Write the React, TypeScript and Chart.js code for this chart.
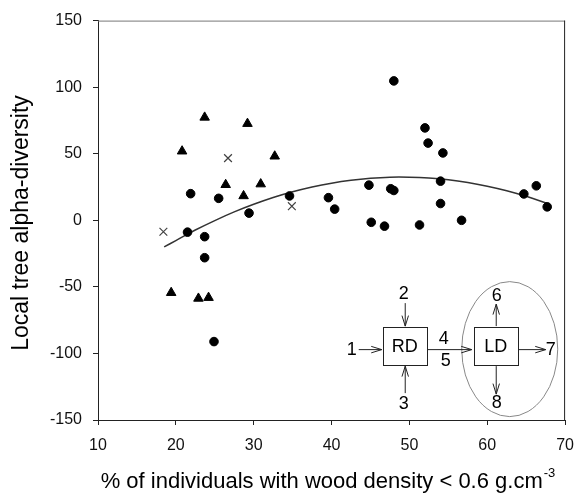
import React, { useEffect, useRef } from "react";
import { Chart, registerables } from "chart.js";

Chart.register(...registerables);

// ---- Data ----
const circleX = [21.9, 25.5, 21.5, 23.7, 23.7, 29.4, 34.6, 24.9, 48.0, 52.0, 52.4, 54.3, 54.0, 44.8, 47.6, 48.0, 39.6, 40.4, 54.0, 45.1, 46.8, 51.3, 56.7, 66.3, 64.7, 67.7];
const circleY = [20.0, 16.5, -8.9, -12.3, -28.1, 5.4, 18.3, -91.1, 104.7, 69.4, 58.0, 50.6, 29.4, 26.4, 23.7, 22.4, 17.0, 8.4, 12.6, -1.5, -4.4, -3.5, 0.0, 25.9, 19.8, 10.1];

const triangleX = [23.7, 20.8, 29.2, 32.7, 26.4, 30.9, 28.7, 19.4, 22.9, 24.2];
const triangleY = [77.3, 51.9, 72.6, 48.1, 26.7, 27.2, 18.3, -54.4, -58.7, -58.1];

const crossX = [26.7, 18.4, 34.9];
const crossY = [46.7, -8.6, 10.6];

const fitX = [18.5, 20, 22.5, 25, 27.5, 30, 32.5, 35, 37.5, 40, 42.5, 45, 47.5, 50, 52.5, 55, 57.5, 60, 62.5, 65, 67.7];
const fitY = [-20.0, -15.2, -7.3, -0.2, 6.3, 12.0, 17.1, 21.4, 25.0, 27.9, 30.1, 31.6, 32.4, 32.4, 31.8, 30.5, 28.4, 25.6, 22.2, 18.0, 12.7];

const xTicks = [10, 20, 30, 40, 50, 60, 70];
const yTicks = [-150, -100, -50, 0, 50, 100, 150];

const yTitle = "Local tree alpha-diversity";
const xTitleMain = "% of individuals with wood density < 0.6 g.cm";
const xTitleSup = "-3";

// inset diagram labels
const insetLabels = ["1", "2", "3", "4", "5", "6", "7", "8"];
const boxLabels = ["RD", "LD"];
const insetAnchor = { x: 49.4, y: -94.5 }; // data position of the RD box centre

const zip = (xs: number[], ys: number[]) => xs.map((x, i) => ({ x, y: ys[i] }));

const FONT = "'Liberation Sans', Arial, sans-serif";

function drawArrow(ctx: CanvasRenderingContext2D, x1: number, y1: number, x2: number, y2: number) {
  const a = Math.atan2(y2 - y1, x2 - x1);
  const L = 11;
  const w = 0.3;
  ctx.beginPath();
  ctx.moveTo(x1, y1);
  ctx.lineTo(x2, y2);
  ctx.moveTo(x2 - L * Math.cos(a - w), y2 - L * Math.sin(a - w));
  ctx.lineTo(x2, y2);
  ctx.lineTo(x2 - L * Math.cos(a + w), y2 - L * Math.sin(a + w));
  ctx.stroke();
}

const decorPlugin = {
  id: "decor",
  afterDraw(chart: any) {
    const { ctx, chartArea, scales } = chart;
    const { left, right, top, bottom } = chartArea;
    ctx.save();
    // top & right frame
    ctx.lineWidth = 1;
    ctx.strokeStyle = "#777";
    ctx.beginPath();
    ctx.moveTo(left, top + 0.5);
    ctx.lineTo(right, top + 0.5);
    ctx.stroke();
    ctx.strokeStyle = "#222";
    ctx.beginPath();
    ctx.moveTo(right - 0.5, top);
    ctx.lineTo(right - 0.5, bottom);
    ctx.stroke();

    // axis titles
    ctx.fillStyle = "#000";
    ctx.textBaseline = "middle";
    ctx.font = `22px ${FONT}`;
    const mainW = ctx.measureText(xTitleMain).width;
    ctx.font = `13px ${FONT}`;
    const supW = ctx.measureText(xTitleSup).width;
    const totalW = mainW + supW + 1;
    const cx = 328;
    const ty = 482;
    ctx.textAlign = "left";
    ctx.font = `22px ${FONT}`;
    ctx.fillText(xTitleMain, cx - totalW / 2, ty);
    ctx.font = `13px ${FONT}`;
    ctx.fillText(xTitleSup, cx - totalW / 2 + mainW + 1, ty - 9);

    ctx.save();
    ctx.translate(22, 223);
    ctx.rotate(-Math.PI / 2);
    ctx.textAlign = "center";
    ctx.font = `23px ${FONT}`;
    ctx.fillText(yTitle, 0, 0);
    ctx.restore();

    // inset diagram
    const ox = scales.x.getPixelForValue(insetAnchor.x);
    const oy = scales.y.getPixelForValue(insetAnchor.y);
    ctx.strokeStyle = "#222";
    ctx.lineWidth = 1;
    const bw = 44, bh = 38, ldx = 91;
    ctx.strokeRect(Math.round(ox - bw / 2) + 0.5, Math.round(oy - bh / 2) + 0.5, bw, bh);
    ctx.strokeRect(Math.round(ox + ldx - bw / 2) + 0.5, Math.round(oy - bh / 2) + 0.5, bw, bh);
    // ellipse
    ctx.strokeStyle = "#888";
    ctx.beginPath();
    ctx.ellipse(ox + 105, oy + 3, 48, 67.5, 0, 0, Math.PI * 2);
    ctx.stroke();
    // arrows
    ctx.strokeStyle = "#222";
    drawArrow(ctx, ox - 46, oy + 3.5, ox - 23, oy + 3.5);
    drawArrow(ctx, ox + 0.5, oy - 43, ox + 0.5, oy - 20);
    drawArrow(ctx, ox + 0.5, oy + 47, ox + 0.5, oy + 20);
    drawArrow(ctx, ox + 23, oy + 3.5, ox + 67, oy + 3.5);
    drawArrow(ctx, ox + ldx + 0.5, oy - 20, ox + ldx + 0.5, oy - 42);
    drawArrow(ctx, ox + ldx + 23, oy + 3.5, ox + ldx + 50, oy + 3.5);
    drawArrow(ctx, ox + ldx + 0.5, oy + 20, ox + ldx + 0.5, oy + 48);
    // texts
    ctx.fillStyle = "#000";
    ctx.textAlign = "center";
    ctx.textBaseline = "middle";
    ctx.font = `18px ${FONT}`;
    ctx.fillText(boxLabels[0], ox, oy + 1);
    ctx.fillText(boxLabels[1], ox + ldx, oy + 1);
    const pos = [
      [-53, 4], [-1, -52], [-1, 58], [39, -7], [41, 15], [92, -50], [146, 4], [92, 57],
    ];
    insetLabels.forEach((t, i) => ctx.fillText(t, ox + pos[i][0], oy + pos[i][1]));
    ctx.restore();
  },
};

export default function App() {
  const ref = useRef<HTMLCanvasElement>(null);

  useEffect(() => {
    const chart = new Chart(ref.current!, {
      type: "scatter",
      data: {
        datasets: [
          {
            label: "circles",
            data: zip(circleX, circleY),
            pointStyle: "circle",
            pointRadius: 4.3,
            pointBackgroundColor: "#000",
            pointBorderColor: "#000",
            pointBorderWidth: 1,
          },
          {
            label: "triangles",
            data: zip(triangleX, triangleY),
            pointStyle: "triangle",
            pointRadius: 5.5,
            pointBackgroundColor: "#000",
            pointBorderColor: "#000",
            pointBorderWidth: 1,
          },
          {
            label: "crosses",
            data: zip(crossX, crossY),
            pointStyle: "crossRot",
            pointRadius: 5.5,
            pointBackgroundColor: "#444",
            pointBorderColor: "#444",
            pointBorderWidth: 1.2,
          },
          {
            label: "fit",
            data: zip(fitX, fitY),
            showLine: true,
            pointRadius: 0,
            borderColor: "#333",
            borderWidth: 1.5,
            tension: 0.4,
          },
        ],
      },
      options: {
        responsive: false,
        animation: false,
        layout: { padding: { top: 15, right: 14, bottom: 0, left: 0 } },
        plugins: { legend: { display: false }, tooltip: { enabled: false } },
        scales: {
          x: {
            type: "linear",
            min: 10,
            max: 70,
            afterBuildTicks: (s: any) => {
              s.ticks = xTicks.map((v) => ({ value: v }));
            },
            afterFit: (s: any) => {
              s.height = 76;
            },
            ticks: { font: { size: 16, family: FONT }, color: "#111", padding: 11 },
            grid: { drawOnChartArea: false, drawTicks: true, tickLength: 5, color: "#222" },
            border: { display: true, color: "#222", width: 1 },
            title: { display: false },
          },
          y: {
            type: "linear",
            min: -150,
            max: 150,
            afterBuildTicks: (s: any) => {
              s.ticks = yTicks.map((v) => ({ value: v }));
            },
            afterFit: (s: any) => {
              s.width = 98;
            },
            ticks: { font: { size: 16, family: FONT }, color: "#111", padding: 11 },
            grid: { drawOnChartArea: false, drawTicks: true, tickLength: 5, color: "#222" },
            border: { display: true, color: "#222", width: 1 },
            title: { display: false },
          },
        },
      },
      plugins: [decorPlugin],
    });
    return () => chart.destroy();
  }, []);

  return (
    <div style={{ position: "fixed", left: 0, top: 0, width: 585, height: 496, background: "#fff" }}>
      <canvas ref={ref} width={585} height={496} style={{ display: "block" }} />
    </div>
  );
}
